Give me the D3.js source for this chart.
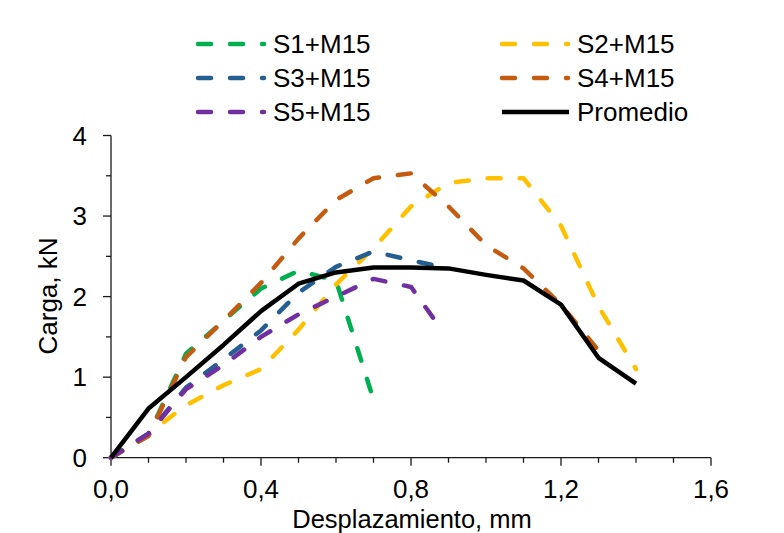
<!DOCTYPE html>
<html>
<head>
<meta charset="utf-8">
<script src="https://cdn.jsdelivr.net/npm/d3@7"></script>
<style>
  html, body { margin: 0; padding: 0; background: #fff; }
  svg { display: block; font-family: "Liberation Sans", Arial, sans-serif; }
</style>
</head>
<body>
<svg id="chart" width="784" height="533"></svg>
<script>
// Load–displacement curves for five specimens and their average
const s1X = [0, 0.1, 0.2, 0.3, 0.4, 0.5, 0.6, 0.7];
const s1Y = [0, 0.28, 1.29, 1.7, 2.1, 2.32, 2.2, 0.72];

const s2X = [0, 0.1, 0.2, 0.3, 0.4, 0.5, 0.6, 0.7, 0.8, 0.9, 1.0, 1.1, 1.2, 1.3, 1.4];
const s2Y = [0, 0.3, 0.65, 0.9, 1.1, 1.59, 2.15, 2.6, 3.12, 3.41, 3.47, 3.47, 2.88, 1.88, 1.1];

const s3X = [0, 0.1, 0.2, 0.3, 0.4, 0.5, 0.6, 0.7, 0.8, 0.9];
const s3Y = [0, 0.3, 0.87, 1.22, 1.58, 2.05, 2.37, 2.56, 2.45, 2.35];

const s4X = [0, 0.1, 0.2, 0.3, 0.4, 0.5, 0.6, 0.7, 0.8, 0.9, 1.0, 1.1, 1.2, 1.3];
const s4Y = [0, 0.27, 1.25, 1.7, 2.17, 2.72, 3.2, 3.47, 3.53, 3.12, 2.64, 2.35, 1.9, 1.33];

const s5X = [0, 0.1, 0.2, 0.3, 0.4, 0.5, 0.6, 0.7, 0.8, 0.88];
const s5Y = [0, 0.3, 0.85, 1.15, 1.5, 1.78, 2.0, 2.22, 2.12, 1.6];

const promX = [0, 0.1, 0.2, 0.3, 0.4, 0.5, 0.6, 0.7, 0.8, 0.9, 1.0, 1.1, 1.2, 1.3, 1.4];
const promY = [0, 0.61, 1.0, 1.4, 1.82, 2.16, 2.3, 2.36, 2.36, 2.35, 2.27, 2.2, 1.9, 1.24, 0.92];

const seriesNames = ["S1+M15", "S2+M15", "S3+M15", "S4+M15", "S5+M15", "Promedio"];
const xTickLabels = ["0,0", "0,4", "0,8", "1,2", "1,6"];
const yTickLabels = ["0", "1", "2", "3", "4"];

const series = [
  { name: seriesNames[0], xs: s1X, ys: s1Y, color: "#00B050", dashed: true },
  { name: seriesNames[1], xs: s2X, ys: s2Y, color: "#FFC000", dashed: true },
  { name: seriesNames[2], xs: s3X, ys: s3Y, color: "#255E91", dashed: true },
  { name: seriesNames[3], xs: s4X, ys: s4Y, color: "#C55A11", dashed: true },
  { name: seriesNames[4], xs: s5X, ys: s5Y, color: "#7030A0", dashed: true },
  { name: seriesNames[5], xs: promX, ys: promY, color: "#000000", dashed: false }
];

const svg = d3.select("#chart");
const FONT = 26;
const DASH = "13,19";
const LW = 4.5;

const x = d3.scaleLinear().domain([0, 1.6]).range([111, 711]);
const y = d3.scaleLinear().domain([0, 4]).range([457.7, 135.5]);

// Axes: minor ticks every 0.1 / 0.5, longer ticks at labelled values
const axisColor = "#1a1a1a";
const xMinor = d3.range(0, 17).map(i => i / 10);
const yMinor = d3.range(0, 9).map(i => i / 2);

const gx = svg.append("g").attr("transform", `translate(0,${y(0)})`);
gx.append("line").attr("x1", x(0)).attr("x2", x(1.6)).attr("stroke", axisColor).attr("stroke-width", 1.3);
gx.selectAll("line.tk").data(xMinor).join("line").attr("class", "tk")
  .attr("x1", d => x(d)).attr("x2", d => x(d))
  .attr("y1", 0).attr("y2", (d, i) => i % 4 === 0 ? 8 : 5)
  .attr("stroke", axisColor).attr("stroke-width", 1.3);
gx.selectAll("text").data(xTickLabels).join("text")
  .attr("x", (d, i) => x(i * 0.4)).attr("y", 40.8)
  .attr("text-anchor", "middle").attr("font-size", FONT).attr("fill", "#000")
  .text(d => d);

const gy = svg.append("g").attr("transform", `translate(${x(0)},0)`);
gy.append("line").attr("y1", y(0)).attr("y2", y(4)).attr("stroke", axisColor).attr("stroke-width", 1.3);
gy.selectAll("line.tk").data(yMinor).join("line").attr("class", "tk")
  .attr("y1", d => y(d)).attr("y2", d => y(d))
  .attr("x1", 0).attr("x2", (d, i) => i % 2 === 0 ? -8 : -5)
  .attr("stroke", axisColor).attr("stroke-width", 1.3);
gy.selectAll("text").data(yTickLabels).join("text")
  .attr("x", -24).attr("y", (d, i) => y(i)).attr("dy", "0.35em")
  .attr("text-anchor", "end").attr("font-size", FONT).attr("fill", "#000")
  .text(d => d);

// Axis titles
svg.append("text").attr("x", 412).attr("y", 527.5)
  .attr("text-anchor", "middle").attr("font-size", 25.5).attr("fill", "#000")
  .text("Desplazamiento, mm");
svg.append("text").attr("transform", "translate(57,296) rotate(-90)")
  .attr("text-anchor", "middle").attr("font-size", FONT).attr("fill", "#000")
  .text("Carga, kN");

// Curves
const line = d3.line().x(d => x(d[0])).y(d => y(d[1]));
const plot = svg.append("g");
series.forEach(s => {
  plot.append("path")
    .datum(s.xs.map((v, i) => [v, s.ys[i]]))
    .attr("d", line)
    .attr("fill", "none")
    .attr("stroke", s.color)
    .attr("stroke-width", LW)
    .attr("stroke-linecap", s.dashed ? "round" : "butt")
    .attr("stroke-linejoin", "round")
    .attr("stroke-dasharray", s.dashed ? DASH : null);
});

// Legend, two columns, three rows
const legendOrder = [0, 1, 2, 3, 4, 5];
const colX = [198, 502];
const rowY = [44, 78, 112];
const legend = svg.append("g");
legendOrder.forEach((si, k) => {
  const s = series[si];
  const cx = colX[k % 2], cy = rowY[Math.floor(k / 2)];
  legend.append("line")
    .attr("x1", cx).attr("x2", s.dashed ? cx + 66 : cx + 67)
    .attr("y1", cy).attr("y2", cy)
    .attr("stroke", s.color).attr("stroke-width", LW)
    .attr("stroke-linecap", s.dashed ? "round" : "butt")
    .attr("stroke-dasharray", s.dashed ? DASH : null);
  legend.append("text")
    .attr("x", cx + 75).attr("y", cy).attr("dy", "0.35em")
    .attr("font-size", FONT).attr("fill", "#000")
    .text(s.name);
});
</script>
</body>
</html>
